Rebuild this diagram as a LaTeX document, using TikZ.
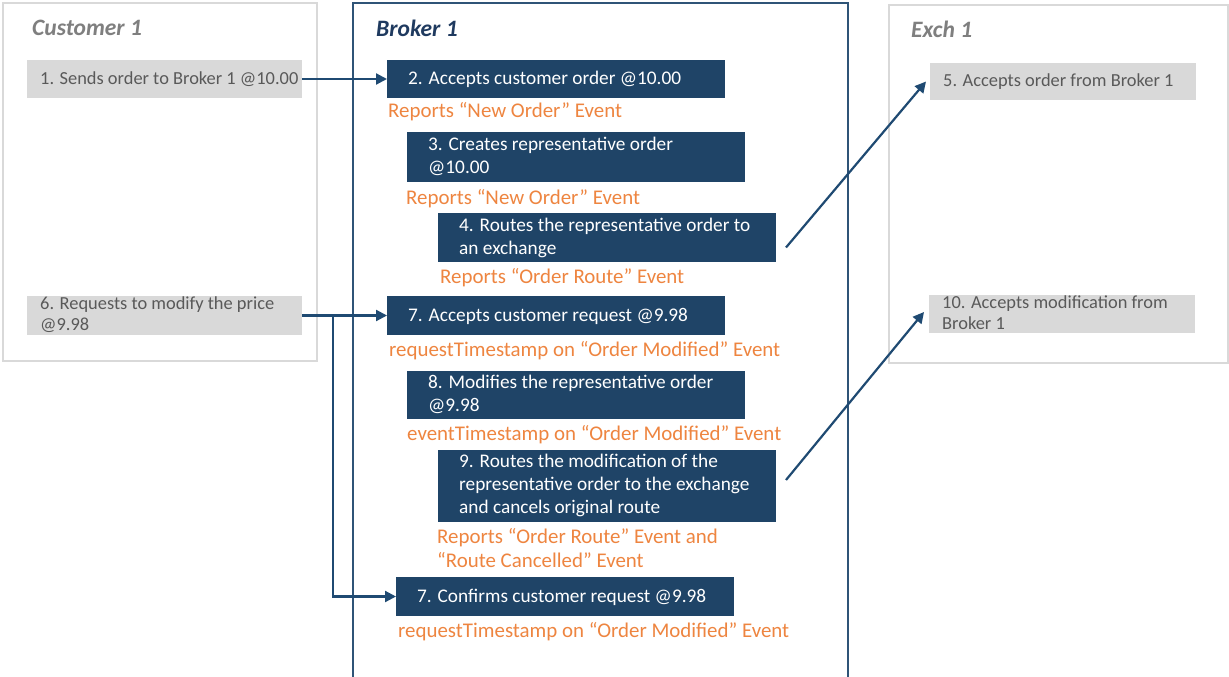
\documentclass[tikz,border=0pt]{standalone}
\usepackage{fontspec}
\setmainfont{Carlito}
\usetikzlibrary{arrows.meta,calc}
\definecolor{boxblue}{HTML}{1F4467}
\definecolor{linkblue}{HTML}{1F4A72}
\definecolor{brokerline}{HTML}{2F5477}
\definecolor{titleblue}{HTML}{1F3A5F}
\definecolor{paneline}{HTML}{D9D9D9}
\definecolor{greyfill}{HTML}{D9D9D9}
\definecolor{greytext}{HTML}{595959}
\definecolor{titlegrey}{HTML}{7F7F7F}
\definecolor{evorange}{HTML}{EE8540}
\tikzset{
  panel/.style={draw=paneline, line width=2pt, fill=white, anchor=north west, inner sep=0pt, outer sep=0pt},
  brokerpanel/.style={draw=brokerline, line width=2pt, fill=white, anchor=north west, inner sep=0pt, outer sep=0pt},
  bluebox/.style={fill=boxblue, draw=none, anchor=north west, inner sep=0pt, outer sep=0pt},
  greybox/.style={fill=greyfill, draw=none, anchor=north west, inner sep=0pt, outer sep=0pt},
  btext/.style={text=white, anchor=west, inner sep=0pt, align=left, font=\fontsize{19.3}{23}\selectfont},
  gtext/.style={text=greytext, anchor=west, inner sep=0pt, align=left, font=\fontsize{18.4}{21}\selectfont},
  evlabel/.style={text=evorange, anchor=west, inner sep=0pt, align=left, font=\fontsize{20.9}{24}\selectfont},
  ptitle/.style={anchor=west, inner sep=0pt, font=\fontsize{23.5}{26}\selectfont\bfseries\itshape},
  arr/.style={draw=linkblue, line width=2.2pt, -{Triangle[length=11pt,width=11pt]}}
}
\begin{document}
\begin{tikzpicture}[x=1pt,y=-1pt]
\useasboundingbox (0,0) rectangle (1229,677);
% panels
\node[panel, minimum width=314, minimum height=358] (cust) at (3,3) {};
\node[brokerpanel, minimum width=495, minimum height=680] (brok) at (353,3) {};
\node[panel, minimum width=339, minimum height=358] (exch) at (889,5) {};
\node[ptitle, text=titlegrey] (tcust) at (32,28) {Customer 1};
\node[ptitle, text=titleblue] (tbrok) at (376,28) {Broker 1};
\node[ptitle, text=titlegrey] (texch) at (911,29) {Exch 1};
% customer boxes
\node[greybox, minimum width=275, minimum height=38] (b1) at (27,60) {};
\node[gtext] (t1) at ($(b1.west)+(13,0.5)$) {1. Sends order to Broker 1 @10.00};
\node[greybox, minimum width=275, minimum height=39] (b6) at (27,296) {};
\node[gtext] (t6) at ($(b6.west)+(13,-1)$) {6. Requests to modify the price\\@9.98};
% exchange boxes
\node[greybox, minimum width=266, minimum height=37] (b5) at (930,63) {};
\node[gtext] (t5) at ($(b5.west)+(13,0.5)$) {5. Accepts order from Broker 1};
\node[greybox, minimum width=266, minimum height=38] (b10) at (929,295) {};
\node[gtext] (t10) at ($(b10.west)+(13,-1)$) {10. Accepts modification from\\Broker 1};
% broker boxes
\node[bluebox, minimum width=338, minimum height=38] (b2) at (387,60) {};
\node[btext] (t2) at ($(b2.west)+(21,0.5)$) {2. Accepts customer order @10.00};
\node[evlabel] (l2) at (388,112) {Reports “New Order” Event};
\node[bluebox, minimum width=338, minimum height=50] (b3) at (407,132) {};
\node[btext] (t3) at ($(b3.west)+(21,-1)$) {3. Creates representative order\\@10.00};
\node[evlabel] (l3) at (406,199) {Reports “New Order” Event};
\node[bluebox, minimum width=338, minimum height=49] (b4) at (438,213) {};
\node[btext] (t4) at ($(b4.west)+(21,0)$) {4. Routes the representative order to\\an exchange};
\node[evlabel] (l4) at (440,278) {Reports “Order Route” Event};
\node[bluebox, minimum width=338, minimum height=39] (b7) at (387,296) {};
\node[btext] (t7) at ($(b7.west)+(21,0.5)$) {7. Accepts customer request @9.98};
\node[evlabel] (l7) at (389,351) {requestTimestamp on “Order Modified” Event};
\node[bluebox, minimum width=338, minimum height=48] (b8) at (407,371) {};
\node[btext] (t8) at ($(b8.west)+(21,-0.5)$) {8. Modifies the representative order\\@9.98};
\node[evlabel] (l8) at (407,435) {eventTimestamp on “Order Modified” Event};
\node[bluebox, minimum width=338, minimum height=72] (b9) at (438,450) {};
\node[btext] (t9) at ($(b9.west)+(21,-0.5)$) {9. Routes the modification of the\\representative order to the exchange\\and cancels original route};
\node[evlabel] (l9) at (437,548) {Reports “Order Route” Event and\\“Route Cancelled” Event};
\node[bluebox, minimum width=338, minimum height=39] (b7c) at (396,577) {};
\node[btext] (t7c) at ($(b7c.west)+(21,0.5)$) {7. Confirms customer request @9.98};
\node[evlabel] (l7c) at (398,632) {requestTimestamp on “Order Modified” Event};
% connectors
\draw[arr] (b1.east) -- (b2.west);
\draw[arr] (b6.east) -- (b7.west);
\coordinate (split) at ($(b6.east)+(31,0)$);
\draw[arr] (split) |- (b7c.west);
\draw[arr] ($(b4.east)+(10,10)$) -- ($(b5.west)+(-4,0)$);
\draw[arr] ($(b9.east)+(10,-6)$) -- ($(b10.west)+(-5,-2)$);
\end{tikzpicture}
\end{document}
